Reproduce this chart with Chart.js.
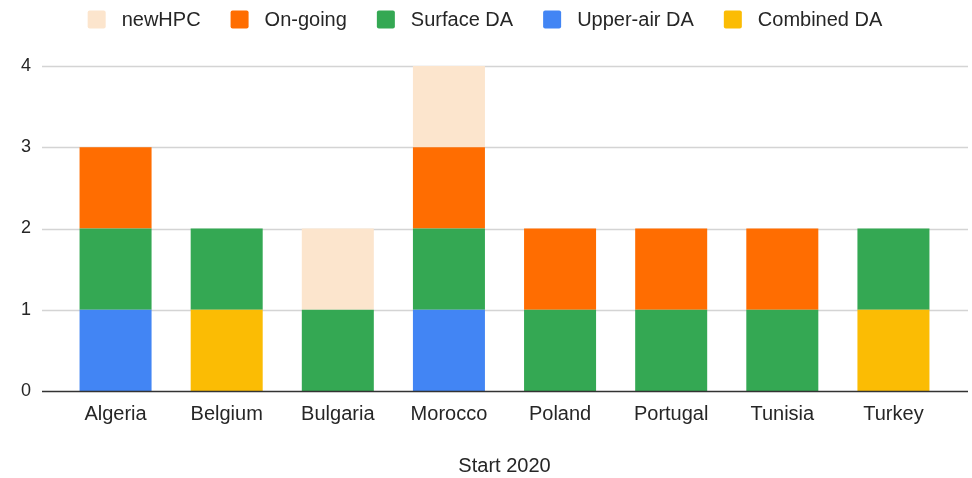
<!DOCTYPE html>
<html>
<head>
<meta charset="utf-8">
<script src="https://cdn.jsdelivr.net/npm/chart.js@4"></script>
<style>
    html, body { margin: 0; padding: 0; background: #fff; }
    #wrap { width: 972px; height: 478px; }
</style>
</head>
<body>
<div id="wrap"><canvas id="startChart"></canvas></div>
<script>
// Categories and series (number of projects per country)
const countries = ['Algeria', 'Belgium', 'Bulgaria', 'Morocco', 'Poland', 'Portugal', 'Tunisia', 'Turkey'];
const combinedDA = [0, 1, 0, 0, 0, 0, 0, 1];
const upperAirDA = [1, 0, 0, 1, 0, 0, 0, 0];
const surfaceDA  = [1, 1, 1, 1, 1, 1, 1, 1];
const onGoing    = [1, 0, 0, 1, 1, 1, 1, 0];
const newHPC     = [0, 0, 1, 1, 0, 0, 0, 0];
const yTicks = [0, 1, 2, 3, 4];

const FONT = '"Liberation Sans", Arial, sans-serif';
const TEXT = '#262626';

// Gridlines run wider than the bar area, so draw them by hand
const gridPlugin = {
    id: 'sheetGrid',
    beforeDatasetsDraw(chart) {
        const { ctx, scales: { y } } = chart;
        ctx.save();
        ctx.strokeStyle = '#d4d4d4';
        ctx.lineWidth = 1.5;
        yTicks.forEach(v => {
            if (v === 0) return;
            const py = Math.round(y.getPixelForValue(v)) + 0.5;
            ctx.beginPath();
            ctx.moveTo(42, py);
            ctx.lineTo(968, py);
            ctx.stroke();
        });
        ctx.restore();
    },
    afterDatasetsDraw(chart) {
        const { ctx, scales: { y } } = chart;
        const py = Math.round(y.getPixelForValue(0)) + 0.5;
        ctx.save();
        ctx.strokeStyle = '#333333';
        ctx.lineWidth = 1.5;
        ctx.beginPath();
        ctx.moveTo(42, py);
        ctx.lineTo(968, py);
        ctx.stroke();
        ctx.restore();
    }
};

// Legend along the top, newest category first
const legendPlugin = {
    id: 'sheetLegend',
    afterDraw(chart) {
        const ctx = chart.ctx;
        const items = chart.data.datasets.slice().reverse();
        const box = 18, gap = 16, spacing = 30, cy = 19.5;
        ctx.save();
        ctx.font = '20px ' + FONT;
        ctx.textBaseline = 'middle';
        const widths = items.map(d => ctx.measureText(d.label).width);
        const total = widths.reduce((s, w) => s + box + gap + w, 0) + spacing * (items.length - 1);
        let x = chart.width / 2 - total / 2 - 1;
        items.forEach((d, i) => {
            ctx.fillStyle = d.backgroundColor;
            ctx.beginPath();
            ctx.roundRect(x, cy - box / 2, box, box, 2);
            ctx.fill();
            ctx.fillStyle = TEXT;
            ctx.fillText(d.label, x + box + gap, cy + 1);
            x += box + gap + widths[i] + spacing;
        });
        ctx.restore();
    }
};

const ctx = document.getElementById('startChart');
new Chart(ctx, {
    type: 'bar',
    data: {
        labels: countries,
        datasets: [
            { label: 'Combined DA', data: combinedDA, backgroundColor: '#fbbc04' },
            { label: 'Upper-air DA', data: upperAirDA, backgroundColor: '#4285f4' },
            { label: 'Surface DA', data: surfaceDA, backgroundColor: '#34a853' },
            { label: 'On-going', data: onGoing, backgroundColor: '#ff6d01' },
            { label: 'newHPC', data: newHPC, backgroundColor: '#fce5cd' }
        ]
    },
    options: {
        responsive: true,
        maintainAspectRatio: false,
        animation: false,
        layout: { padding: { left: 0, right: 23, top: 66, bottom: 0 } },
        datasets: {
            bar: { barPercentage: 0.648, categoryPercentage: 1 }
        },
        scales: {
            x: {
                stacked: true,
                grid: { display: false },
                border: { display: false },
                ticks: { color: TEXT, font: { family: FONT, size: 20 }, padding: 3, maxRotation: 0 },
                title: {
                    display: true,
                    text: 'Start 2020',
                    color: TEXT,
                    font: { family: FONT, size: 20 },
                    padding: { top: 0, bottom: 0 }
                },
                afterFit(scale) { scale.height = 87; }
            },
            y: {
                stacked: true,
                min: 0,
                max: 4,
                grid: { display: false },
                border: { display: false },
                ticks: { color: TEXT, font: { family: FONT, size: 18 }, padding: 21, stepSize: 1 },
                afterFit(scale) { scale.width = 60; }
            }
        },
        plugins: {
            legend: { display: false },
            tooltip: { enabled: false }
        }
    },
    plugins: [gridPlugin, legendPlugin]
});
</script>
</body>
</html>
